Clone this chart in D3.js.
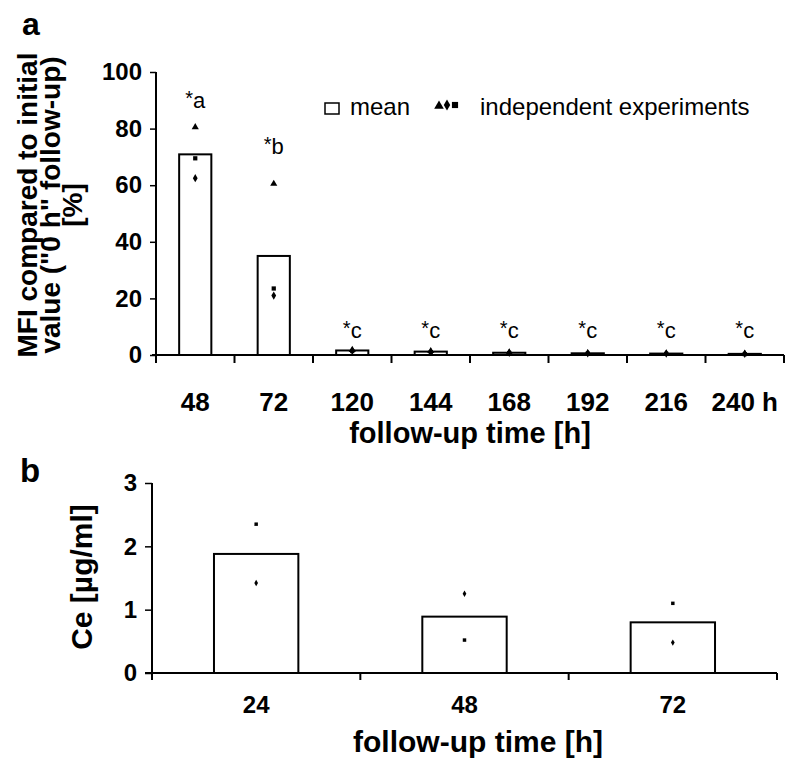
<!DOCTYPE html>
<html><head><meta charset="utf-8">
<script src="https://cdn.jsdelivr.net/npm/d3@7"></script>
<style>
body{margin:0;background:#fff;}
svg{display:block;font-family:"Liberation Sans",Arial,sans-serif;}
</style></head>
<body><svg id="c" width="787" height="765"></svg>
<script>
// Panel a data
const catsA = ["48","72","120","144","168","192","216","240 h"];
const meanA = [70.9, 35.0, 1.6, 1.2, 0.8, 0.6, 0.5, 0.4];
const triA  = [80.5, 60.5, 1.8, 1.4, 0.9, 0.7, 0.6, 0.5];
const diaA  = [62.5, 21.0, 1.5, 1.1, 0.8, 0.6, 0.5, 0.4];
const sqA   = [69.5, 23.5, 1.4, 1.0, 0.7, 0.5, 0.4, 0.3];
const annotA = ["a","b","c","c","c","c","c","c"];
const annotYA = [87.3, 71.0, 6.0, 6.0, 6.0, 6.0, 6.0, 6.0];
const ticksA = [0,20,40,60,80,100];

// Panel b data
const catsB = ["24","48","72"];
const meanB = [1.88, 0.89, 0.80];
const sqB   = [2.35, 0.52, 1.10];
const diaB  = [1.42, 1.25, 0.48];
const ticksB = [0,1,2,3];

const svg = d3.select("#c");

// ---------- Panel a ----------
const xA = d3.scaleBand().domain(catsA).range([156, 784]).paddingInner(0).paddingOuter(0);
const yA = d3.scaleLinear().domain([0,100]).range([355, 72]);
const gA = svg.append("g");
const bwA = xA.bandwidth()*0.41;
const cx = d=>xA(d)+xA.bandwidth()/2;

gA.selectAll("rect.bar").data(catsA).enter().append("rect")
  .attr("x", d=>cx(d)-bwA/2)
  .attr("y", (d,i)=>yA(meanA[i]))
  .attr("width", bwA)
  .attr("height", (d,i)=>yA(0)-yA(meanA[i]))
  .attr("fill","#fff").attr("stroke","#000").attr("stroke-width",2);

// y axis
const yAxisA = d3.axisLeft(yA).tickValues(ticksA).tickSize(6).tickPadding(8);
const ga = gA.append("g").attr("transform","translate(156,0)").call(yAxisA);
ga.select(".domain").attr("stroke-width",2).attr("d","M0,355V72");
ga.selectAll(".tick line").attr("stroke-width",1.5);
ga.selectAll("text").attr("font-size",24).attr("font-weight","bold").attr("fill","#000");

// x axis
const gxA = gA.append("g").attr("transform","translate(0,355)");
gxA.append("line").attr("x1",152).attr("x2",784).attr("stroke","#000").attr("stroke-width",2);
gxA.selectAll("line.tk").data(catsA.concat(["end"])).enter().append("line")
  .attr("x1",(d,i)=> i<catsA.length? xA(d): xA.range()[1])
  .attr("x2",(d,i)=> i<catsA.length? xA(d): xA.range()[1])
  .attr("y1",0).attr("y2",8).attr("stroke","#000").attr("stroke-width",2);
gxA.selectAll("text").data(catsA).enter().append("text")
  .attr("x", d=>cx(d)).attr("y",56)
  .attr("text-anchor","middle").attr("font-size",26).attr("font-weight","bold").text(d=>d);

// markers
gA.selectAll("path.tri").data(catsA).enter().append("path")
  .attr("d", d3.symbol().type(d3.symbolTriangle).size(22))
  .attr("transform",(d,i)=>`translate(${cx(d)},${yA(triA[i])})`).attr("fill","#000");
gA.selectAll("path.dia").data(catsA).enter().append("path")
  .attr("d", d3.symbol().type(d3.symbolDiamond).size(20))
  .attr("transform",(d,i)=>`translate(${cx(d)},${yA(diaA[i])})`).attr("fill","#000");
gA.selectAll("path.sq").data(catsA).enter().append("path")
  .attr("d", d3.symbol().type(d3.symbolSquare).size(18))
  .attr("transform",(d,i)=>`translate(${cx(d)},${yA(sqA[i])})`).attr("fill","#000");

// annotations
const an = gA.selectAll("text.an").data(catsA).enter().append("text")
  .attr("x", d=>cx(d)).attr("y",(d,i)=>yA(annotYA[i]))
  .attr("text-anchor","middle").attr("font-size",22);
an.append("tspan").text("*").attr("font-size",20).attr("dy",-3);
an.append("tspan").text((d,i)=>annotA[i]).attr("dy",3);

// legend
gA.append("rect").attr("x",325).attr("y",103).attr("width",14).attr("height",11)
  .attr("fill","#fff").attr("stroke","#000").attr("stroke-width",1.5);
gA.append("text").attr("x",350).attr("y",115).attr("font-size",24).text("mean");
gA.append("path").attr("d", d3.symbol().type(d3.symbolTriangle).size(40)).attr("transform","translate(439,106)");
gA.append("path").attr("d", d3.symbol().type(d3.symbolDiamond).size(36)).attr("transform","translate(447,105)");
gA.append("path").attr("d", d3.symbol().type(d3.symbolSquare).size(38)).attr("transform","translate(455,105)");
gA.append("text").attr("x",480).attr("y",115).attr("font-size",24).text("independent experiments");

// titles
gA.append("text").attr("x",470).attr("y",443).attr("text-anchor","middle")
  .attr("font-size",29).attr("font-weight","bold").text("follow-up time [h]");
const ytA = gA.append("text").attr("transform","translate(0,205) rotate(-90)")
  .attr("text-anchor","middle").attr("font-size",28).attr("font-weight","bold");
ytA.append("tspan").attr("x",0).attr("y",37).text("MFI compared to initial");
ytA.append("tspan").attr("x",0).attr("y",60).text('value ("0 h" follow-up)');
ytA.append("tspan").attr("x",0).attr("y",82).text("[%]");
svg.append("text").attr("x",22).attr("y",35).attr("font-size",32).attr("font-weight","bold").text("a");

// ---------- Panel b ----------
const xB = d3.scaleBand().domain(catsB).range([152, 777]);
const yB = d3.scaleLinear().domain([0,3]).range([673, 483]);
const gB = svg.append("g");
const bwB = xB.bandwidth()*0.405;
const cxB = d=>xB(d)+xB.bandwidth()/2;

gB.selectAll("rect.bar").data(catsB).enter().append("rect")
  .attr("x", d=>cxB(d)-bwB/2)
  .attr("y",(d,i)=>yB(meanB[i]))
  .attr("width",bwB).attr("height",(d,i)=>yB(0)-yB(meanB[i]))
  .attr("fill","#fff").attr("stroke","#000").attr("stroke-width",2);

const yAxisB = d3.axisLeft(yB).tickValues(ticksB).tickFormat(d3.format("d")).tickSize(7).tickPadding(8);
const gb = gB.append("g").attr("transform","translate(152,0)").call(yAxisB);
gb.select(".domain").attr("stroke-width",2).attr("d","M0,676V483");
gb.selectAll(".tick line").attr("stroke-width",1.5);
gb.selectAll("text").attr("font-size",24).attr("font-weight","bold").attr("fill","#000");

const gxB = gB.append("g").attr("transform","translate(0,673)");
gxB.append("line").attr("x1",145).attr("x2",777).attr("stroke","#000").attr("stroke-width",2);
gxB.selectAll("line.tk").data(catsB.concat(["end"])).enter().append("line")
  .attr("x1",(d,i)=> i<catsB.length? xB(d): xB.range()[1])
  .attr("x2",(d,i)=> i<catsB.length? xB(d): xB.range()[1])
  .attr("y1",0).attr("y2",7).attr("stroke","#000").attr("stroke-width",2);
gxB.selectAll("text").data(catsB).enter().append("text")
  .attr("x", d=>cxB(d)).attr("y",40)
  .attr("text-anchor","middle").attr("font-size",24).attr("font-weight","bold").text(d=>d);

gB.selectAll("path.sq").data(catsB).enter().append("path")
  .attr("d", d3.symbol().type(d3.symbolSquare).size(12))
  .attr("transform",(d,i)=>`translate(${cxB(d)},${yB(sqB[i])})`);
gB.selectAll("path.dia").data(catsB).enter().append("path")
  .attr("d", d3.symbol().type(d3.symbolDiamond).size(12))
  .attr("transform",(d,i)=>`translate(${cxB(d)},${yB(diaB[i])})`);

gB.append("text").attr("x",478).attr("y",752).attr("text-anchor","middle")
  .attr("font-size",30).attr("font-weight","bold").text("follow-up time [h]");
gB.append("text").attr("transform","translate(92,577) rotate(-90)").attr("text-anchor","middle")
  .attr("font-size",30).attr("font-weight","bold").text("Ce [µg/ml]");
svg.append("text").attr("x",20).attr("y",482).attr("font-size",33).attr("font-weight","bold").text("b");
</script></body></html>
